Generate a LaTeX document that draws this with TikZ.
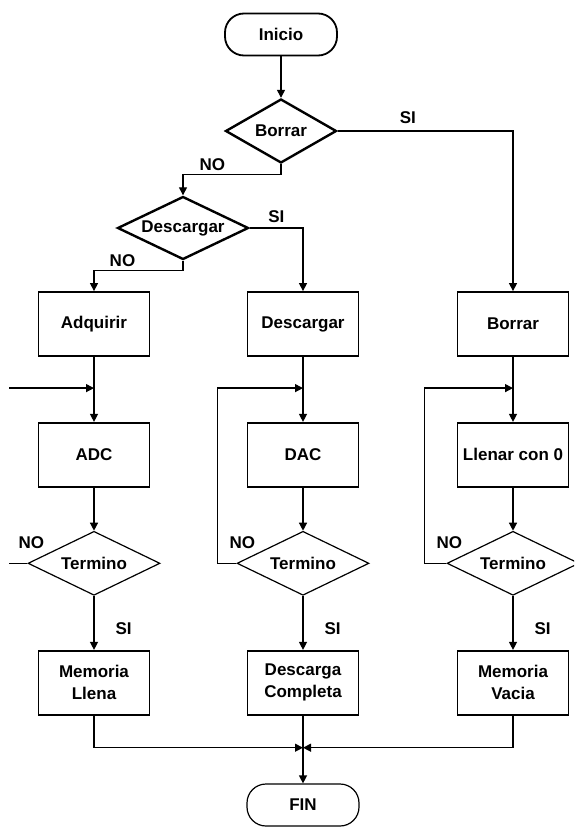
\documentclass[tikz,border=0pt]{standalone}
\usepackage{fontspec}
\setmainfont{Liberation Sans}
\usetikzlibrary{arrows.meta,positioning,shapes.geometric,calc}

\begin{document}
\begin{tikzpicture}[
  x=1pt,y=-1pt,
  font=\fontsize{17}{22}\selectfont\bfseries,
  proc/.style={draw,line width=1.8pt,minimum width=111pt,minimum height=64pt,inner sep=0pt,align=center},
  decide/.style={draw,diamond,aspect=2,inner sep=0pt,line width=2.4pt,minimum width=111pt,minimum height=64pt},
  test/.style={draw,diamond,aspect=2,inner sep=0pt,line width=1.2pt,minimum width=132pt,minimum height=64pt},
  term/.style={draw,rounded corners=19pt,minimum width=112pt,minimum height=42pt,inner sep=0pt},
  lbl/.style={inner sep=0pt},
  arr/.style={line width=1.3pt,-{Triangle[length=8pt,width=8pt]}},
  line/.style={line width=1.3pt},
  node distance=65pt
]
  \useasboundingbox (0,0) rectangle (574,827);
  \clip (0,0) rectangle (574,827);

  % start and the two questions
  \node[term,line width=1.8pt] (inicio) at (281,34.5) {Inicio};
  \node[decide] (borrar) at (281,131) {Borrar};
  \node[decide,minimum width=131pt,minimum height=63pt] (descq) at (183,228) {Descargar};

  % three columns
  \node[proc] (adq) at (94,324) {Adquirir};
  \node[proc] (desc) at (303,324) {Descargar};
  \node[proc] (bor) at (513,324) {Borrar};
  \node[proc,below=of adq] (adc) {ADC};
  \node[proc,below=of desc] (dac) {DAC};
  \node[proc,below=of bor] (llenar) {Llenar con 0};
  \node[test,below=43pt of adc] (termA) {Termino};
  \node[test,below=43pt of dac] (termB) {Termino};
  \node[test,below=43pt of llenar] (termC) {Termino};
  \node[proc,below=54pt of termA] (memA) {Memoria\\Llena};
  \node[proc,below=54pt of termB] (compB) {Descarga\\Completa};
  \node[proc,below=54pt of termC] (vacC) {Memoria\\Vacia};
  \node[term,line width=1.2pt] (fin) at (303,805) {FIN};

  % top part
  \draw[arr] (inicio) -- (borrar);
  \draw[arr] (borrar.east) -| node[lbl,pos=0.2,above=7pt] (siBorrar) {SI} (bor);
  \draw[arr] (borrar.south) -- ++(0,10) -| node[lbl,pos=0.35,above=3pt] (noBorrar) {NO} (descq.north);
  \draw[arr] (descq.east) -| node[lbl,pos=0.25,above=5pt] (siDesc) {SI} (desc);
  \draw[arr] (descq.south) -- ++(0,10) -| node[lbl,pos=0.34,above=3pt] (noDesc) {NO} (adq);

  % junctions above the second boxes
  \coordinate (jA) at ($(adq.south)!0.48!(adc.north)$);
  \coordinate (jB) at ($(desc.south)!0.48!(dac.north)$);
  \coordinate (jC) at ($(bor.south)!0.48!(llenar.north)$);
  \coordinate (inA) at ([xshift=-85pt]jA);
  \coordinate (outA) at ([xshift=-18pt]termA.west);

  \draw[arr] (adq) -- (adc);
  \draw[arr] (desc) -- (dac);
  \draw[arr] (bor) -- (llenar);
  \draw[arr] (inA) -- (jA);

  \draw[arr] (adc) -- (termA);
  \draw[arr] (dac) -- (termB);
  \draw[arr] (llenar) -- (termC);

  % loops back on NO
  \draw[line] (termA.west) -- (outA);
  \draw[arr] (termB.west) -- ++(-19,0) |- (jB);
  \draw[arr] (termC.west) -- ++(-22,0) |- (jC);
  \node[lbl] (noA) at ([shift={(4pt,21pt)}]termA.west) {NO};
  \node[lbl] (noB) at ([shift={(6pt,21pt)}]termB.west) {NO};
  \node[lbl] (noC) at ([shift={(3pt,21pt)}]termC.west) {NO};

  \draw[arr] (termA) -- node[lbl,pos=0.6,right=21pt] (siA) {SI} (memA);
  \draw[arr] (termB) -- node[lbl,pos=0.6,right=21pt] (siB) {SI} (compB);
  \draw[arr] (termC) -- node[lbl,pos=0.6,right=21pt] (siC) {SI} (vacC);

  % merge to the end
  \coordinate (jF) at ([yshift=-32pt]compB.south);
  \draw[arr] (memA) |- (jF);
  \draw[arr] (vacC) |- (jF);
  \draw[arr] (compB) -- (fin);
\end{tikzpicture}
\end{document}
